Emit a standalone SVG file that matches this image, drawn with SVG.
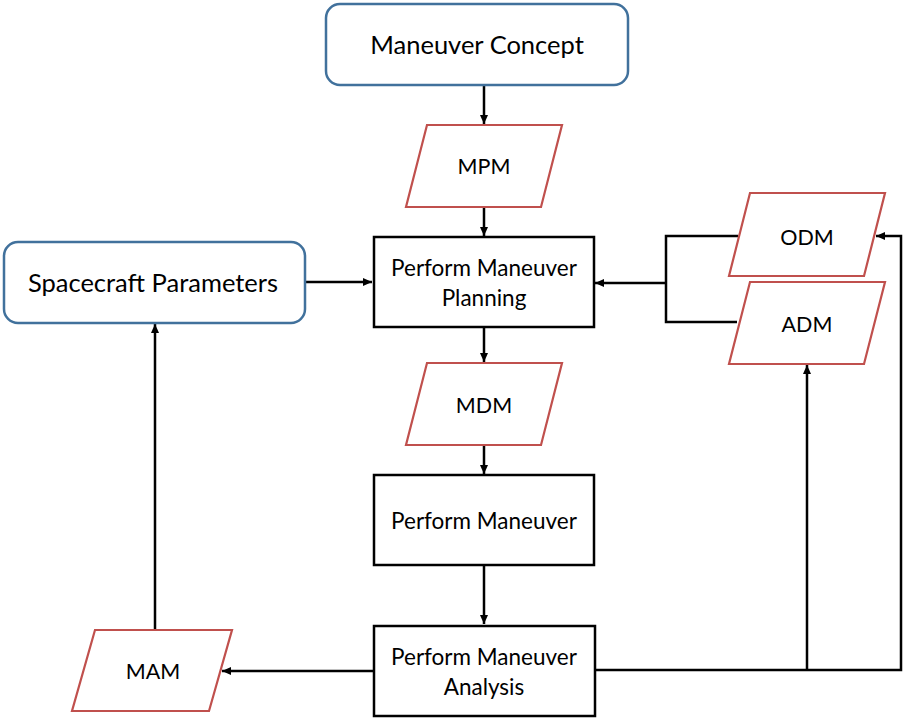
<svg xmlns="http://www.w3.org/2000/svg" width="903" height="719" viewBox="0 0 903 719">
<style>
.term{fill:#fff;stroke:#41719C;stroke-width:2.5}
.data{fill:#fff;stroke:#C0504D;stroke-width:2.2}
.proc{fill:#fff;stroke:#000;stroke-width:2.5}
.t{font-family:Lato,"Open Sans","Liberation Sans",sans-serif;fill:#000;text-anchor:middle}
.big{font-size:25.5px}
.med{font-size:22.5px}
.lab{font-size:21.5px}
.conn{fill:none;stroke:#000;stroke-width:2.5}
</style>
<defs>
<marker id="ah" markerWidth="10" markerHeight="10" refX="9" refY="5" orient="auto" markerUnits="userSpaceOnUse">
<path d="M0,1 L9,5 L0,9 Z" fill="#000"/>
</marker>
</defs>
<rect width="903" height="719" fill="#fff"/>
<g id="connectors">
<line class="conn" x1="484" y1="85" x2="484" y2="124" marker-end="url(#ah)"/>
<line class="conn" x1="484" y1="207" x2="484" y2="236" marker-end="url(#ah)"/>
<line class="conn" x1="306" y1="282" x2="372" y2="282" marker-end="url(#ah)"/>
<polyline class="conn" points="738,236 666,236 666,322 737,322"/>
<line class="conn" x1="666" y1="283" x2="595" y2="283" marker-end="url(#ah)"/>
<line class="conn" x1="484" y1="327" x2="484" y2="362" marker-end="url(#ah)"/>
<line class="conn" x1="484" y1="445" x2="484" y2="474" marker-end="url(#ah)"/>
<line class="conn" x1="484" y1="566" x2="484" y2="624" marker-end="url(#ah)"/>
<line class="conn" x1="374" y1="671" x2="222" y2="671" marker-end="url(#ah)"/>
<line class="conn" x1="155" y1="630" x2="155" y2="324" marker-end="url(#ah)"/>
<polyline class="conn" points="596,670 901,670 901,236 876,236" marker-end="url(#ah)"/>
<line class="conn" x1="807" y1="670" x2="807" y2="365" marker-end="url(#ah)"/>
</g>
<g id="maneuver-concept">
<rect class="term" x="326" y="4" width="302" height="81" rx="14"/>
<text class="t big" x="477" y="54">Maneuver Concept</text>
</g>
<g id="mpm">
<polygon class="data" points="427,125 562,125 541,207 406,207"/>
<text class="t lab" x="484" y="174">MPM</text>
</g>
<g id="spacecraft-parameters">
<rect class="term" x="4" y="242" width="301" height="81" rx="14"/>
<text class="t big" x="153" y="292">Spacecraft Parameters</text>
</g>
<g id="perform-maneuver-planning">
<rect class="proc" x="374" y="237" width="220" height="90"/>
<text class="t med" x="484" y="276">Perform Maneuver</text>
<text class="t med" x="484" y="306">Planning</text>
</g>
<g id="odm">
<polygon class="data" points="750,193 885,193 864,276 729,276"/>
<text class="t lab" x="807" y="245">ODM</text>
</g>
<g id="adm">
<polygon class="data" points="750,282 885,282 864,364 729,364"/>
<text class="t lab" x="807" y="332">ADM</text>
</g>
<g id="mdm">
<polygon class="data" points="427,363 562,363 541,445 406,445"/>
<text class="t lab" x="484" y="413">MDM</text>
</g>
<g id="perform-maneuver">
<rect class="proc" x="374" y="475" width="220" height="90"/>
<text class="t med" x="484" y="529">Perform Maneuver</text>
</g>
<g id="perform-maneuver-analysis">
<rect class="proc" x="374" y="626" width="221" height="90"/>
<text class="t med" x="484" y="665">Perform Maneuver</text>
<text class="t med" x="484" y="695">Analysis</text>
</g>
<g id="mam">
<polygon class="data" points="95,630 232,630 209,711 72,711"/>
<text class="t lab" x="153" y="679">MAM</text>
</g>
</svg>
